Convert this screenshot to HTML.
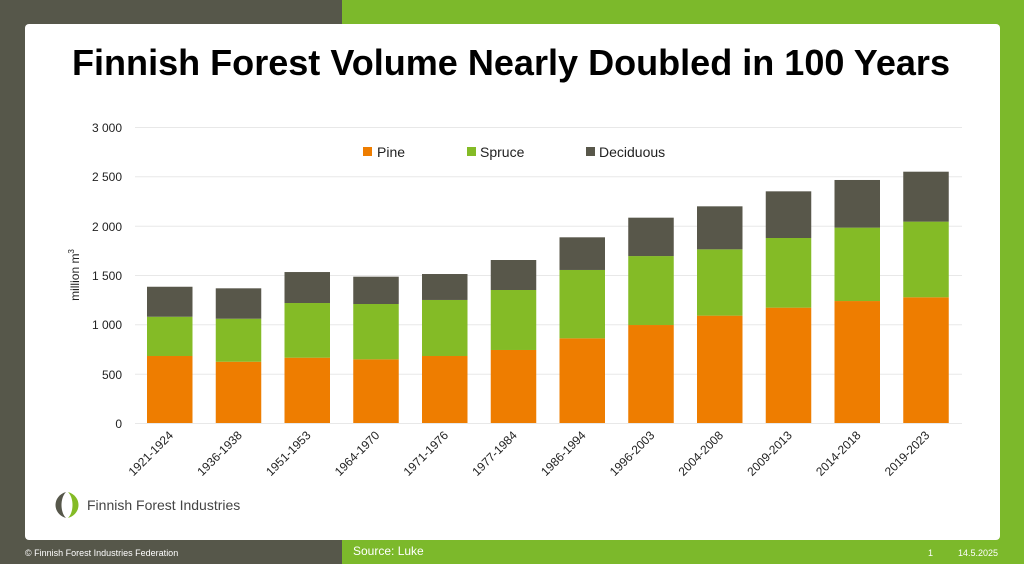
<!DOCTYPE html>
<html><head><meta charset="utf-8"><style>
html,body{margin:0;padding:0;width:1024px;height:564px;overflow:hidden}
svg{display:block;font-family:"Liberation Sans",sans-serif}
</style></head><body>
<svg width="1024" height="564" viewBox="0 0 1024 564" xmlns="http://www.w3.org/2000/svg">
<rect x="0" y="0" width="342" height="564" fill="#56574a"/>
<rect x="342" y="0" width="682" height="564" fill="#7cb92b"/>
<rect x="25" y="24" width="975" height="516" rx="4" fill="#fff"/>
<text x="72" y="75" font-size="36" font-weight="bold" fill="#000" textLength="878" lengthAdjust="spacingAndGlyphs">Finnish Forest Volume Nearly Doubled in 100 Years</text>
<g stroke="#e8e8e8" stroke-width="1">
<line x1="135" x2="962" y1="127.5" y2="127.5"/>
<line x1="135" x2="962" y1="176.8" y2="176.8"/>
<line x1="135" x2="962" y1="226.2" y2="226.2"/>
<line x1="135" x2="962" y1="275.5" y2="275.5"/>
<line x1="135" x2="962" y1="324.8" y2="324.8"/>
<line x1="135" x2="962" y1="374.2" y2="374.2"/>
<line x1="135" x2="962" y1="423.5" y2="423.5"/>
</g>
<g font-size="12" fill="#222" text-anchor="end">
<text x="122" y="132">3 000</text>
<text x="122" y="181">2 500</text>
<text x="122" y="231">2 000</text>
<text x="122" y="280">1 500</text>
<text x="122" y="329">1 000</text>
<text x="122" y="379">500</text>
<text x="122" y="428">0</text>
</g>
<text transform="translate(79,275) rotate(-90)" font-size="12" fill="#222" text-anchor="middle">million m<tspan font-size="8" dy="-5">3</tspan></text>
<g font-size="14" fill="#222">
<rect x="363" y="147" width="9" height="9" fill="#ee7d00"/><text x="377" y="157">Pine</text>
<rect x="467" y="147" width="9" height="9" fill="#84bb26"/><text x="480" y="157">Spruce</text>
<rect x="586" y="147" width="9" height="9" fill="#58574a"/><text x="599" y="157">Deciduous</text>
</g>
<g id="bars"></g>
<g font-size="12" fill="#222" id="xl"></g>
<path d="M66 492 C52 496 52 514 66 518 C60 512 60 498 66 492Z" fill="#56574a"/>
<path d="M68 492 C82 496 82 514 68 518 C74 512 74 498 68 492Z" fill="#84bb26"/>
<text x="87" y="510" font-size="14" fill="#444">Finnish Forest Industries</text>
<text x="25" y="556" font-size="9" fill="#fff">© Finnish Forest Industries Federation</text>
<text x="353" y="555" font-size="12" fill="#fff">Source: Luke</text>
<text x="928" y="556" font-size="9" fill="#fff">1</text>
<text x="958" y="556" font-size="9" fill="#fff">14.5.2025</text>
<script>
var d=[[679,1077,1381],[621,1057,1365],[662,1216,1530],[645,1206,1483],[679,1247,1510],[740,1348,1652],[858,1551,1882],[993,1692,2081],[1088,1760,2196],[1169,1875,2348],[1236,1980,2463],[1274,2041,2547]];
var l=["1921-1924","1936-1938","1951-1953","1964-1970","1971-1976","1977-1984","1986-1994","1996-2003","2004-2008","2009-2013","2014-2018","2019-2023"];
var ns="http://www.w3.org/2000/svg",b=document.getElementById("bars"),xl=document.getElementById("xl");
function y(v){return 423-v*296/3000;}
function r(x,v0,v1,c){var e=document.createElementNS(ns,"rect");e.setAttribute("x",x);e.setAttribute("y",y(v1));e.setAttribute("width",45.5);e.setAttribute("height",y(v0)-y(v1));e.setAttribute("fill",c);b.appendChild(e);}
for(var i=0;i<12;i++){var x=147+i*68.75;r(x,0,d[i][0],"#ee7d00");r(x,d[i][0],d[i][1],"#84bb26");r(x,d[i][1],d[i][2],"#58574a");
var t=document.createElementNS(ns,"text");var cx=x+27;t.setAttribute("transform","translate("+cx+",436) rotate(-45)");t.setAttribute("text-anchor","end");t.textContent=l[i];xl.appendChild(t);}
</script>
</svg>
</body></html>
